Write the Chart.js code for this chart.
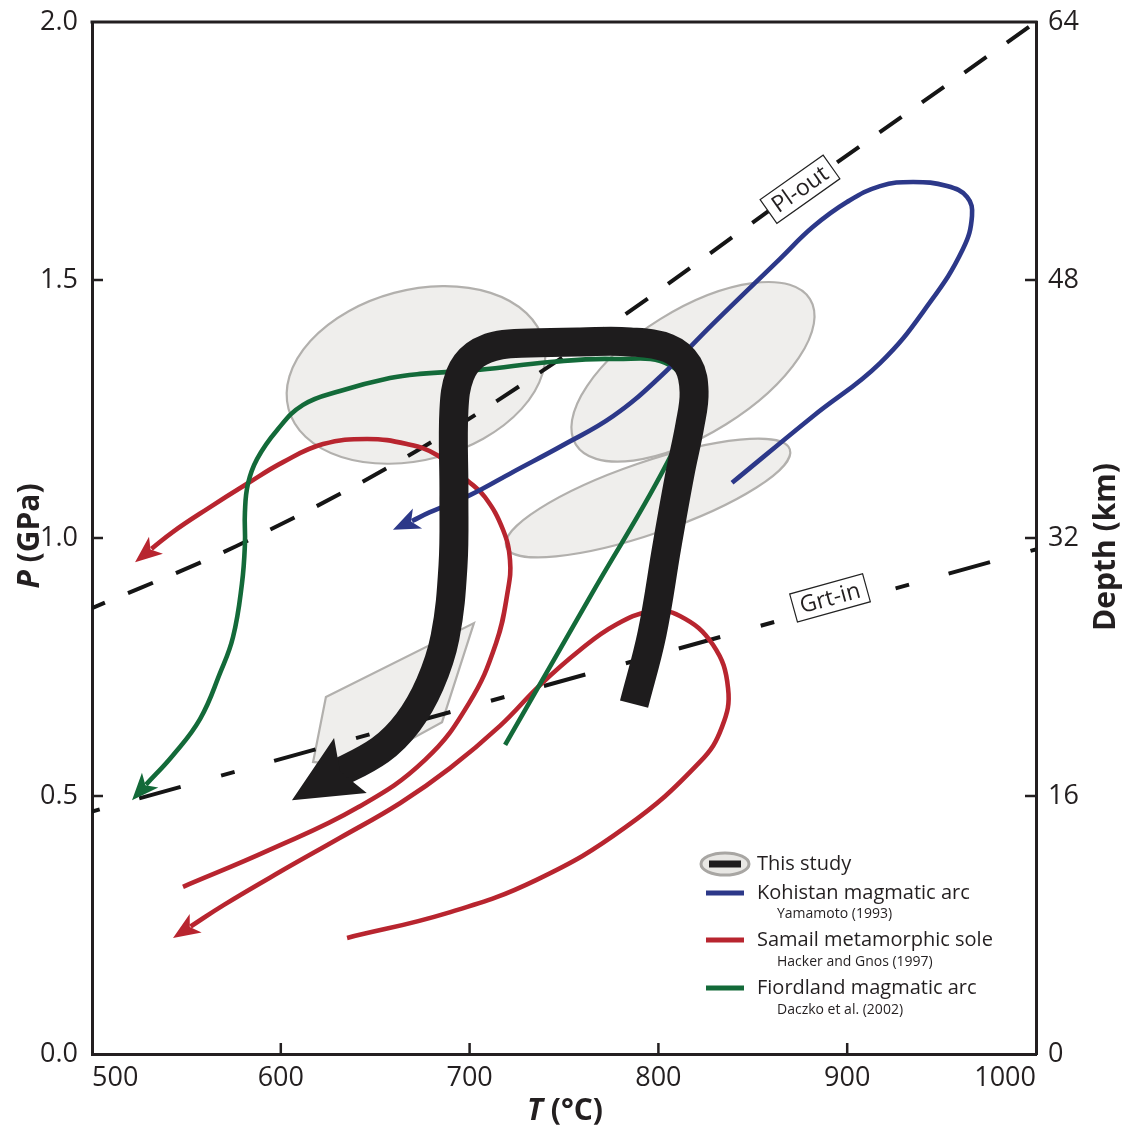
<!DOCTYPE html>
<html><head><meta charset="utf-8">
<script src="https://cdn.jsdelivr.net/npm/chart.js@4.4.1/dist/chart.umd.min.js"></script>
<style>html,body{margin:0;padding:0;background:#fff;}canvas{display:block;}</style>
</head><body>
<canvas id="c" width="1133" height="1130"></canvas>
<script>
// ---------- axes ----------
const tempTicks = [500, 600, 700, 800, 900, 1000];
const pressureTicks = [0, 0.5, 1.0, 1.5, 2.0];
const depthTicks = [0, 16, 32, 48, 64];

// ---------- This study (thick black path), tail -> arrow tip ----------
const thisStudyT = [787.1,796.6,804.6,811.4,816.7,818.9,815.7,805.1,785.0,758.5,732.0,716.1,702.9,694.9,691.7,691.7,691.2,687.0,679.0,667.4,652.6,626.6,605.9];
const thisStudyP = [0.678,0.814,0.986,1.124,1.219,1.283,1.335,1.368,1.380,1.380,1.378,1.374,1.355,1.316,1.248,1.085,0.946,0.808,0.717,0.643,0.589,0.537,0.492];

// ---------- Kohistan magmatic arc (blue) ----------
const kohistanT = [839.0,881.9,917.4,943.9,961.3,966.1,963.5,952.9,934.9,917.4,899.9,881.9,864.4,828.9,800.8,776.0,749.5,723.0,700.2,679.0,669.5,659.4];
const kohistanP = [1.107,1.236,1.339,1.457,1.560,1.624,1.661,1.682,1.690,1.682,1.651,1.603,1.541,1.415,1.312,1.236,1.180,1.128,1.083,1.050,1.033,1.016];

// ---------- Samail metamorphic sole (red), two paths ----------
const samailAT = [548.2,593.7,640.9,676.4,699.7,714.0,720.3,721.4,717.7,708.2,698.6,682.7,666.8,645.7,622.4,601.2,582.1,560.9,542.9,531.5,522.8];
const samailAP = [0.324,0.395,0.478,0.570,0.680,0.796,0.899,0.957,1.016,1.079,1.112,1.161,1.182,1.192,1.182,1.147,1.105,1.056,1.012,0.979,0.953];
const samailBT = [635.1,688.0,735.2,782.8,822.0,833.7,836.9,828.9,811.4,795.6,777.0,758.5,737.3,716.1,689.6,663.1,631.4,599.6,569.9,552.2,542.9];
const samailBP = [0.225,0.273,0.337,0.440,0.566,0.634,0.709,0.793,0.849,0.857,0.831,0.783,0.715,0.636,0.554,0.486,0.419,0.353,0.289,0.247,0.225];

// ---------- Fiordland magmatic arc (green) ----------
const fiordlandT = [718.8,763.8,807.7,816.7,806.1,776.0,742.6,705.5,673.7,657.8,631.4,611.8,598.0,587.4,582.6,581.0,581.0,579.4,574.7,567.8,557.2,542.9,528.6,521.2];
const fiordlandP = [0.599,0.886,1.167,1.267,1.335,1.347,1.341,1.326,1.318,1.310,1.285,1.258,1.209,1.153,1.105,1.050,0.988,0.911,0.808,0.738,0.649,0.579,0.522,0.492];

// ---------- reaction lines ----------
const plOutT = [500, 576.3, 672.1, 774.4, 857.0, 1000];
const plOutP = [0.864, 0.984, 1.169, 1.413, 1.630, 2.0];
const grtInT = [500, 1000];
const grtInP = [0.470, 0.978];

// ---------- grey P-T fields (ellipses: centre, end of major & minor half-axis) ----------
const ellipseCenterT = [671.6, 818.3, 794.5];
const ellipseCenterP = [1.316, 1.322, 1.0775];
const ellipseMajorT  = [739.1, 880.3, 869.6];
const ellipseMajorP  = [1.382, 1.463, 1.172];
const ellipseMinorT  = [683.2, 835.7, 800.7];
const ellipseMinorP  = [1.157, 1.220, 1.012];
const fieldPolyT = [623.9, 702.3, 685.4, 641.9, 617.1];
const fieldPolyP = [0.692, 0.835, 0.643, 0.556, 0.566];

// ---------- labels ----------
const reactionLabels = ['Pl-out', 'Grt-in'];
const reactionLabelT = [875, 890.9];
const reactionLabelP = [1.676, 0.884];
const legendLabels = ['This study', 'Kohistan magmatic arc', 'Samail metamorphic sole', 'Fiordland magmatic arc'];
const legendSources = ['', 'Yamamoto (1993)', 'Hacker and Gnos (1997)', 'Daczko et al. (2002)'];

// ======================================================
const FONT = '"Open Sans", "Noto Sans", "DejaVu Sans", sans-serif';
const INK = '#231f20';
const C_BLACK = '#1e1c1d', C_BLUE = '#2c3889', C_RED = '#b8252f', C_GREEN = '#136a39';
const pts = (T, P) => T.map((t, i) => ({x: t, y: P[i]}));
const body = a => a.slice(0, -1);

const arrows = [
  {T: thisStudyT, P: thisStudyP, color: C_BLACK, len: 68, hw: 32, notch: 12},
  {T: kohistanT, P: kohistanP, color: C_BLUE, len: 27, hw: 11, notch: 7},
  {T: samailAT, P: samailAP, color: C_RED, len: 27, hw: 11, notch: 7},
  {T: samailBT, P: samailBP, color: C_RED, len: 27, hw: 11, notch: 7},
  {T: fiordlandT, P: fiordlandP, color: C_GREEN, len: 27, hw: 11, notch: 7}
];

const lineDs = (label, data, color, width, order, extra) => Object.assign({
  label, data, showLine: true, borderColor: color, backgroundColor: color, borderWidth: width,
  pointRadius: 0, tension: 0.42, order, borderCapStyle: 'butt', borderJoinStyle: 'round', fill: false
}, extra || {});

const datasets = [
  lineDs('This study', body(pts(thisStudyT, thisStudyP)), C_BLACK, 29, 0, {tension: 0.38}),
  lineDs('Kohistan magmatic arc', body(pts(kohistanT, kohistanP)), C_BLUE, 4.6, 3),
  lineDs('Fiordland magmatic arc', body(pts(fiordlandT, fiordlandP)), C_GREEN, 4.6, 4),
  lineDs('Samail metamorphic sole', body(pts(samailAT, samailAP)), C_RED, 4.6, 5),
  lineDs('Samail metamorphic sole B', body(pts(samailBT, samailBP)), C_RED, 4.6, 5),
  lineDs('Pl-out', pts(plOutT, plOutP), '#151515', 4, 8, {cubicInterpolationMode: 'monotone', borderDash: [27, 25], borderDashOffset: 13}),
  lineDs('Grt-in', pts(grtInT, grtInP), '#151515', 4, 8, {tension: 0, borderDash: [43, 42, 14, 41], borderDashOffset: 91})
];

function arrowHead(ctx, from, tip, len, hw, notch, color) {
  let dx = tip.x - from.x, dy = tip.y - from.y; const d = Math.hypot(dx, dy); dx /= d; dy /= d;
  const bx = tip.x - dx * len, by = tip.y - dy * len, px = -dy, py = dx;
  ctx.beginPath();
  ctx.moveTo(tip.x, tip.y);
  ctx.lineTo(bx + px * hw, by + py * hw);
  ctx.lineTo(tip.x - dx * (len - notch), tip.y - dy * (len - notch));
  ctx.lineTo(bx - px * hw, by - py * hw);
  ctx.closePath();
  ctx.fillStyle = color; ctx.fill();
}

const decor = {
  id: 'decor',
  beforeDatasetsDraw(chart) {
    const {ctx, chartArea: A} = chart; const X = chart.scales.x, Y = chart.scales.y;
    const P = (t, p) => ({x: X.getPixelForValue(t), y: Y.getPixelForValue(p)});
    ctx.save();
    ctx.beginPath(); ctx.rect(A.left, A.top, A.right - A.left, A.bottom - A.top); ctx.clip();
    const shapes = [];
    ellipseCenterT.forEach((t, i) => {
      const c = P(t, ellipseCenterP[i]), a = P(ellipseMajorT[i], ellipseMajorP[i]), b = P(ellipseMinorT[i], ellipseMinorP[i]);
      shapes.push(() => { ctx.beginPath(); ctx.ellipse(c.x, c.y, Math.hypot(a.x - c.x, a.y - c.y), Math.hypot(b.x - c.x, b.y - c.y), Math.atan2(a.y - c.y, a.x - c.x), 0, Math.PI * 2); });
    });
    shapes.push(() => { ctx.beginPath(); fieldPolyT.forEach((t, i) => { const q = P(t, fieldPolyP[i]); i ? ctx.lineTo(q.x, q.y) : ctx.moveTo(q.x, q.y); }); ctx.closePath(); });
    ctx.fillStyle = '#efeeec';
    shapes.forEach(s => { s(); ctx.fill(); });
    ctx.strokeStyle = '#b2b0ad'; ctx.lineWidth = 2.2; ctx.lineJoin = 'miter';
    shapes.forEach(s => { s(); ctx.stroke(); });
    ctx.restore();
  },
  afterDatasetsDraw(chart) {
    const {ctx} = chart; const X = chart.scales.x, Y = chart.scales.y;
    const P = (t, p) => ({x: X.getPixelForValue(t), y: Y.getPixelForValue(p)});
    ctx.save();
    arrows.slice(1).concat(arrows.slice(0, 1)).forEach(a => {
      const n = a.T.length;
      arrowHead(ctx, P(a.T[n - 2], a.P[n - 2]), P(a.T[n - 1], a.P[n - 1]), a.len, a.hw, a.notch, a.color);
    });
    const lines = [[plOutT, plOutP], [grtInT, grtInP]];
    reactionLabels.forEach((txt, i) => {
      const [lt, lp] = lines[i];
      let k = 0; while (k < lt.length - 2 && lt[k + 1] < reactionLabelT[i]) k++;
      const p1 = P(lt[k], lp[k]), p2 = P(lt[k + 1], lp[k + 1]);
      const ang = Math.atan2(p2.y - p1.y, p2.x - p1.x);
      const c = P(reactionLabelT[i], reactionLabelP[i]);
      ctx.save(); ctx.translate(c.x, c.y); ctx.rotate(ang);
      ctx.font = '23px ' + FONT; const w = ctx.measureText(txt).width + 14, h = 29;
      ctx.fillStyle = '#fff'; ctx.fillRect(-w / 2, -h / 2, w, h);
      ctx.strokeStyle = '#222'; ctx.lineWidth = 1.2; ctx.strokeRect(-w / 2, -h / 2, w, h);
      ctx.fillStyle = INK; ctx.textAlign = 'center'; ctx.textBaseline = 'middle';
      ctx.fillText(txt, 0, 1);
      ctx.restore();
    });
    ctx.restore();
  },
  afterDraw(chart) {
    const {ctx, chartArea: A} = chart; const X = chart.scales.x, Y = chart.scales.y, Y2 = chart.scales.y2;
    ctx.save();
    ctx.strokeStyle = INK; ctx.lineWidth = 3; ctx.lineCap = 'square';
    ctx.beginPath(); ctx.moveTo(A.left, A.top); ctx.lineTo(A.right, A.top); ctx.stroke();
    ctx.lineWidth = 2.5; ctx.lineCap = 'butt';
    tempTicks.slice(1, -1).forEach(v => { const x = X.getPixelForValue(v); ctx.beginPath(); ctx.moveTo(x, A.bottom); ctx.lineTo(x, A.bottom - 11); ctx.stroke(); });
    pressureTicks.slice(1, -1).forEach(v => { const y = Y.getPixelForValue(v); ctx.beginPath(); ctx.moveTo(A.left, y); ctx.lineTo(A.left + 11, y); ctx.stroke(); });
    depthTicks.slice(1, -1).forEach(v => { const y = Y2.getPixelForValue(v); ctx.beginPath(); ctx.moveTo(A.right, y); ctx.lineTo(A.right - 11, y); ctx.stroke(); });
    const mixed = (parts, cx, cy, rot) => {
      ctx.save(); ctx.translate(cx, cy); ctx.rotate(rot);
      let w = 0; parts.forEach(p => { ctx.font = p[1] + ' 30px ' + FONT; w += ctx.measureText(p[0]).width; });
      let x = -w / 2; ctx.textBaseline = 'middle'; ctx.textAlign = 'left'; ctx.fillStyle = INK;
      parts.forEach(p => { ctx.font = p[1] + ' 30px ' + FONT; ctx.fillText(p[0], x, 0); x += ctx.measureText(p[0]).width; });
      ctx.restore();
    };
    mixed([['P', 'italic bold'], [' (GPa)', 'bold']], 30, 536, -Math.PI / 2);
    mixed([['T', 'italic bold'], [' (°C)', 'bold']], 565, 1111, 0);
    mixed([['Depth (km)', 'bold']], 1106, 547, -Math.PI / 2);
    const rowY = [864, 893, 940, 988], subY = [0, 914, 962, 1010];
    const cols = [C_BLACK, C_BLUE, C_RED, C_GREEN];
    legendLabels.forEach((lab, i) => {
      const y = rowY[i];
      if (i === 0) {
        ctx.beginPath(); ctx.ellipse(725, y, 24, 11, 0, 0, Math.PI * 2);
        ctx.fillStyle = '#e8e7e4'; ctx.fill(); ctx.strokeStyle = '#a8a6a3'; ctx.lineWidth = 3; ctx.stroke();
        ctx.fillStyle = C_BLACK; ctx.fillRect(709, y - 3.5, 32, 7);
      } else {
        ctx.fillStyle = cols[i]; ctx.fillRect(706, y - 2.5, 38, 5);
      }
      ctx.fillStyle = INK; ctx.textAlign = 'left'; ctx.textBaseline = 'middle';
      ctx.font = '20px ' + FONT; ctx.fillText(lab, 757, y);
      if (legendSources[i]) { ctx.font = '14px ' + FONT; ctx.fillText(legendSources[i], 777, subY[i]); }
    });
    ctx.restore();
  }
};

const tickFont = {family: FONT, size: 27};
const noPad = s => { s.paddingTop = 0; s.paddingBottom = 0; s.paddingLeft = 0; s.paddingRight = 0; };
new Chart(document.getElementById('c'), {
  type: 'scatter',
  data: {datasets},
  options: {
    responsive: false, animation: false, devicePixelRatio: 1,
    layout: {padding: {top: 22, left: 0, right: 0, bottom: 0}},
    plugins: {legend: {display: false}, tooltip: {enabled: false}},
    scales: {
      x: {
        type: 'linear', position: 'bottom', min: 500, max: 1000,
        afterBuildTicks: s => { s.ticks = tempTicks.map(v => ({value: v})); },
        ticks: {align: 'inner', padding: 8, font: tickFont, color: INK, maxRotation: 0, callback: v => String(v)},
        grid: {display: false, drawTicks: false},
        border: {display: true, color: INK, width: 3},
        afterFit: s => { s.height = 76; noPad(s); }
      },
      y: {
        type: 'linear', position: 'left', min: 0, max: 2,
        afterBuildTicks: s => { s.ticks = pressureTicks.map(v => ({value: v})); },
        ticks: {padding: 14, font: tickFont, color: INK, callback: v => Number(v).toFixed(1)},
        grid: {display: false, drawTicks: false},
        border: {display: true, color: INK, width: 3},
        afterFit: s => { s.width = 92; noPad(s); }
      },
      y2: {
        type: 'linear', position: 'right', min: 0, max: 64,
        afterBuildTicks: s => { s.ticks = depthTicks.map(v => ({value: v})); },
        ticks: {padding: 12, font: tickFont, color: INK, callback: v => String(v)},
        grid: {display: false, drawTicks: false},
        border: {display: true, color: INK, width: 3},
        afterFit: s => { s.width = 97; noPad(s); }
      }
    }
  },
  plugins: [decor]
});
</script>
</body></html>
